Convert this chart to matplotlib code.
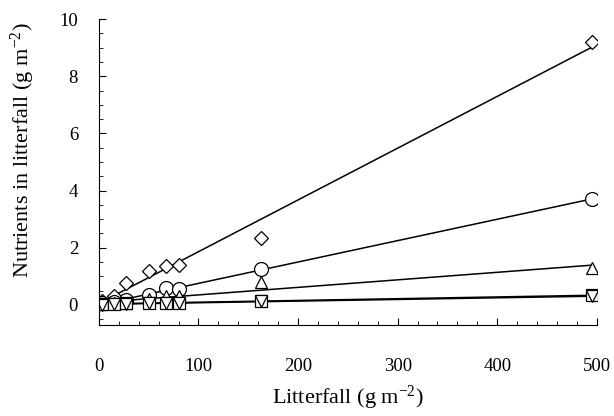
import numpy as np
import matplotlib.pyplot as plt
from matplotlib.ticker import MultipleLocator

plt.rcParams['font.family'] = ['Liberation Serif', 'DejaVu Serif']
plt.rcParams['mathtext.fontset'] = 'custom'
plt.rcParams['mathtext.rm'] = 'Liberation Serif'

# litterfall (g m-2)
litterfall = [3, 15, 27, 50, 67, 80, 163, 495]

# nutrients in litterfall (g m-2)
diamonds = [0.15, 0.3, 0.75, 1.2, 1.35, 1.4, 2.35, 9.2]
circles = [0.05, 0.1, 0.17, 0.35, 0.6, 0.55, 1.25, 3.7]
triangles = [0.03, 0.05, 0.08, 0.2, 0.3, 0.3, 0.8, 1.3]
squares = [0.02, 0.03, 0.05, 0.07, 0.08, 0.08, 0.15, 0.33]
down_tri = [0.01, 0.02, 0.04, 0.05, 0.06, 0.06, 0.12, 0.3]

fig = plt.figure(figsize=(6.14, 4.16), dpi=100)
ax = fig.add_axes([0.161, 0.219, 0.811, 0.735])

x = np.array(litterfall)
xx = np.array([x.min(), x.max()])
series = [(diamonds, 'D', 7.5), (circles, 'o', 10), (triangles, '^', 9),
          (squares, 's', 9), (down_tri, 'v', 8)]
for vals, mk, ms in series:
    p = np.polyfit(x, vals, 1)
    ax.plot(xx, np.polyval(p, xx), color='black', lw=1.1, zorder=1)
    ax.plot(x, vals, linestyle='none', marker=mk, ms=ms, mfc='white',
            mec='black', mew=0.9, zorder=2)

ax.set_xlim(0, 500)
ax.set_ylim(-0.7, 10)
ax.xaxis.set_major_locator(MultipleLocator(100))
ax.xaxis.set_minor_locator(MultipleLocator(20))
ax.yaxis.set_major_locator(MultipleLocator(2))
ax.yaxis.set_minor_locator(MultipleLocator(0.5))
ax.tick_params(which='both', direction='in', labelsize=13.5)
ax.tick_params(axis='x', pad=24)
ax.tick_params(axis='y', pad=15)
ax.tick_params(which='major', length=5)
ax.tick_params(which='minor', length=3)
ax.spines['top'].set_visible(False)
ax.spines['right'].set_visible(False)

ax.set_xlabel('Litterfall (g m$\\mathregular{^{-2}}$)', fontsize=16, labelpad=6)
ax.set_ylabel('Nutrients in litterfall (g m$\\mathregular{^{-2}}$)', fontsize=16)
ax.yaxis.set_label_coords(-0.125, 0.57)

fig.savefig('out.png', dpi=100)
